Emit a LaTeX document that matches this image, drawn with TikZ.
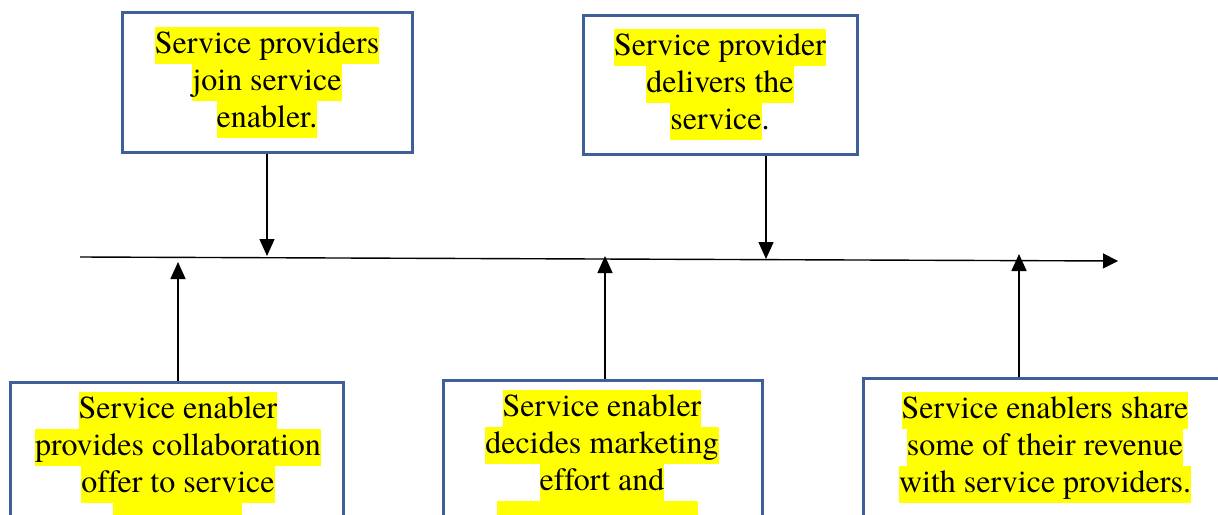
\documentclass[tikz,border=0pt]{standalone}
\usepackage{fontspec}
\setmainfont{texgyretermes}[Extension=.otf, UprightFont=*-regular, BoldFont=*-bold, Ligatures=NoCommon]
\usetikzlibrary{arrows.meta}
\definecolor{boxblue}{RGB}{63,95,155}
\definecolor{hlyellow}{RGB}{255,255,0}
% one highlighted line of text
\newcommand\hlt[1]{{\setlength{\fboxsep}{0pt}\colorbox{hlyellow}{\strut #1}}}

\begin{document}
\begin{tikzpicture}[x=0.5pt,y=-0.5pt,
  card/.style={draw=boxblue, line width=1.5pt, fill=white, inner sep=0pt},
  lbl/.style={anchor=north, align=center, inner sep=0pt, font=\fontsize{16}{18.5}\selectfont},
  arr/.style={line width=0.7pt, -{Triangle[length=8.5pt,width=7.5pt]}},
  mainarr/.style={line width=0.7pt, -{Triangle[length=7.5pt,width=7.5pt]}},
]
\useasboundingbox (0,0) rectangle (1218,514);
\clip (0,0) rectangle (1218,514);

% event boxes above and below the time line
\node[card, minimum width=145pt, minimum height=70pt] (b1) at (267,82) {};
\node[card, minimum width=137pt, minimum height=69.5pt] (b2) at (720,84.5) {};
\node[card, minimum width=166.5pt, minimum height=109pt] (b3) at (176.5,491) {};
\node[card, minimum width=159.5pt, minimum height=110pt] (b4) at (602.5,490) {};
\node[card, minimum width=182pt, minimum height=111pt] (b5) at (1045,489) {};

% highlighted captions
\node[lbl] (l1) at (267,27) {\hlt{Service providers}\\\hlt{join service}\\\hlt{enabler.}};
\node[lbl] (l2) at (720,29) {\hlt{Service provider}\\\hlt{delivers the}\\\hlt{service}.};
\node[lbl] (l3) at (178,392) {\hlt{Service enabler}\\\hlt{provides collaboration}\\\hlt{offer to service}};
\node[lbl] (l4) at (602,390) {\hlt{Service enabler}\\\hlt{decides marketing}\\\hlt{effort and}};
\node[lbl] (l5) at (1045,392) {\hlt{Service enablers share}\\\hlt{some of their revenue}\\\hlt{with service providers.}};

% highlight of the following lines, running off the bottom edge
\fill[hlyellow] (113,503) rectangle (242,520);
\fill[hlyellow] (497,501) rectangle (698,520);

% time line
\coordinate (t0) at (80,257);
\coordinate (t1) at (1118,261);
\draw[mainarr] (t0) -- (t1);

% arrow tips on the time line
\coordinate (d1) at (267,256);
\coordinate (d2) at (766,259);
\coordinate (u1) at (178,262);
\coordinate (u2) at (605,256);
\coordinate (u3) at (1019,254);

\draw[arr] (b1.south -| d1) -- (d1);
\draw[arr] (b2.south -| d2) -- (d2);
\draw[arr] (b3.north -| u1) -- (u1);
\draw[arr] (b4.north -| u2) -- (u2);
\draw[arr] (b5.north -| u3) -- (u3);
\end{tikzpicture}
\end{document}
